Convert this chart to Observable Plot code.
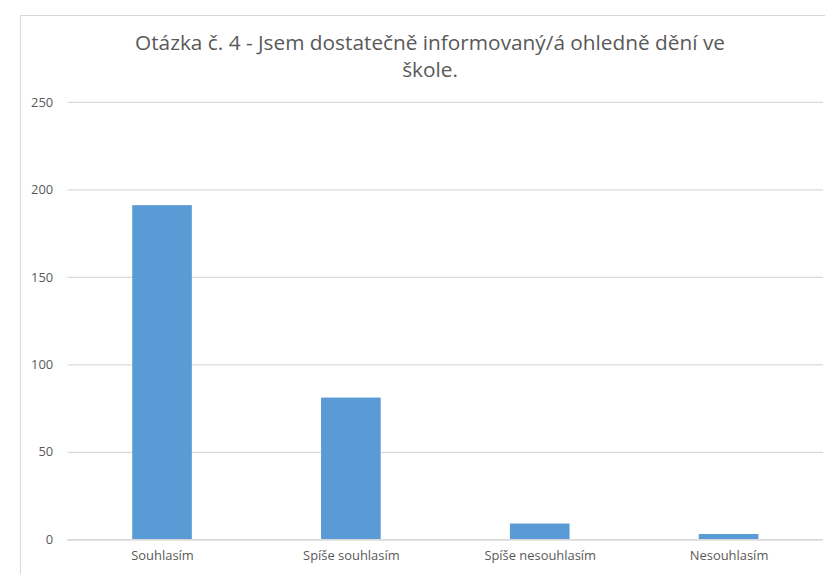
<!DOCTYPE html>
<html>
<head>
<meta charset="utf-8">
<script src="https://cdn.jsdelivr.net/npm/d3@7"></script>
<script src="https://cdn.jsdelivr.net/npm/@observablehq/plot@0.6"></script>
<style>
  html, body { margin: 0; padding: 0; width: 825px; height: 574px; overflow: hidden; background: #fff; }
  #frame { position: absolute; left: 20px; top: 15px; width: 900px; height: 700px; border: 1px solid #d9d9d9; box-sizing: border-box; }
  #title { position: absolute; left: 0; top: 29px; width: 860px; text-align: center;
           font-family: "Open Sans", sans-serif; font-size: 20.8px; line-height: 27px; color: #595959; }
  #chart { position: absolute; left: 0; top: 90px; }
</style>
</head>
<body>
<div id="frame"></div>
<div id="title">Otázka č. 4 - Jsem dostatečně informovaný/á ohledně dění ve<br>škole.</div>
<div id="chart"></div>
<script>
const categories = ["Souhlasím", "Spíše souhlasím", "Spíše nesouhlasím", "Nesouhlasím"];
const counts = [191, 81, 9, 3];
const yTicks = [0, 50, 100, 150, 200, 250];

const data = categories.map((c, i) => ({category: c, count: counts[i]}));

const chart = Plot.plot({
  width: 830,
  height: 484,
  marginLeft: 68,
  marginRight: 2,
  marginTop: 12,
  marginBottom: 32,
  style: {fontFamily: "Open Sans, sans-serif", fontSize: "13px", color: "#595959", background: "transparent"},
  x: {domain: categories, paddingInner: 0.684, paddingOuter: 0.342, label: null},
  y: {domain: [0, 250], ticks: yTicks, label: null},
  marks: [
    Plot.gridY(yTicks, {stroke: "#d9d9d9", strokeOpacity: 1, strokeWidth: 1.3}),
    Plot.barY(data, {x: "category", y: "count", fill: "#5b9bd5"}),
    Plot.ruleY([0], {stroke: "#d9d9d9", strokeWidth: 1.3}),
    Plot.axisY(yTicks, {tickSize: 0, tickPadding: 15, fill: "#595959", fontSize: 13}),
    Plot.axisX({tickSize: 0, tickPadding: 11, fill: "#595959", fontSize: 13})
  ]
});
document.getElementById("chart").appendChild(chart);
</script>
</body>
</html>
